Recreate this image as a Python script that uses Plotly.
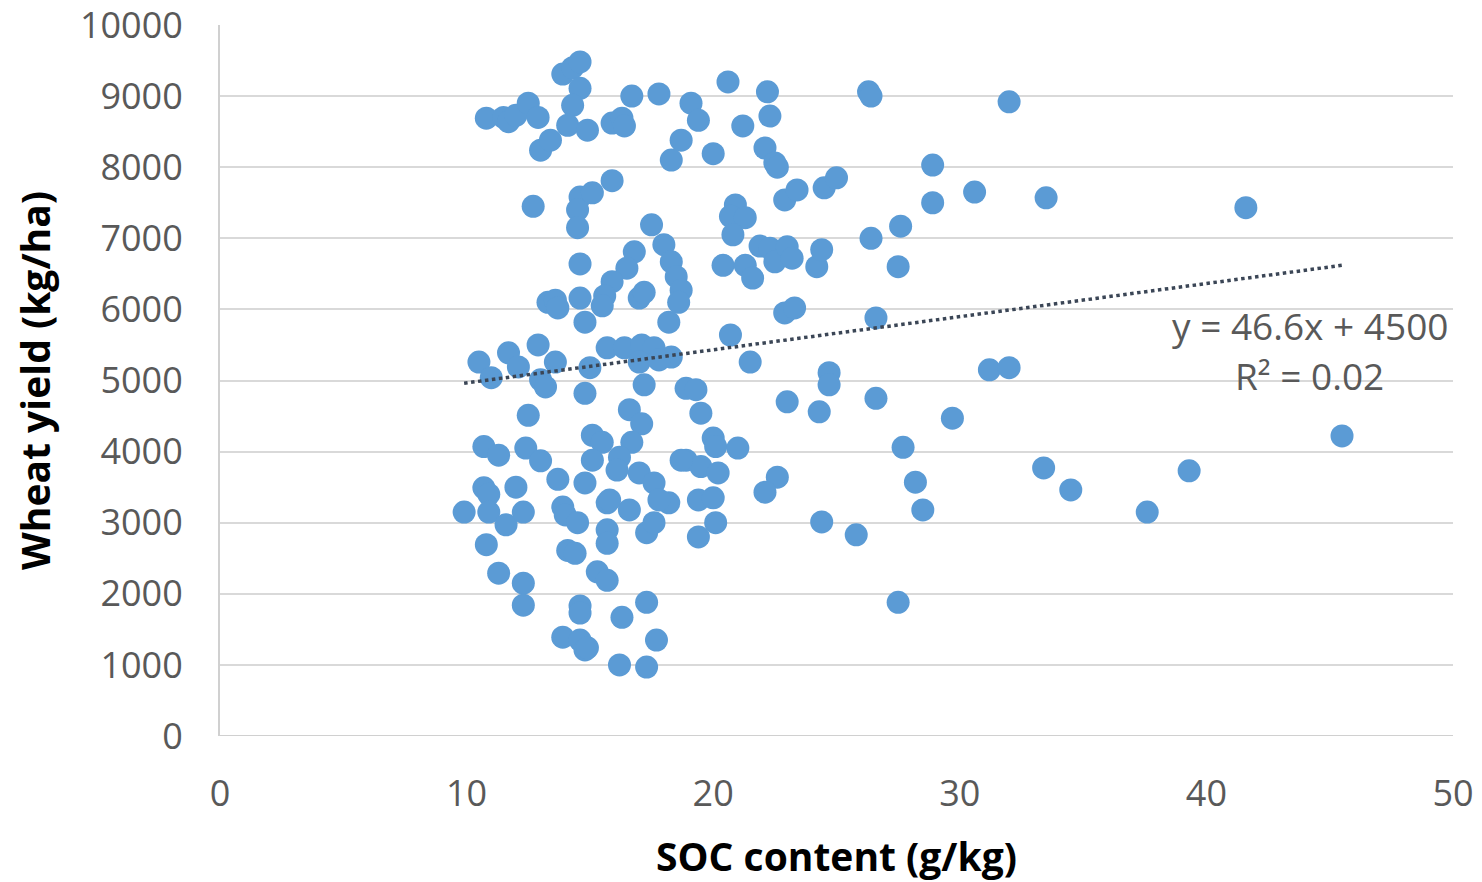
import plotly.graph_objects as go

# SOC content (g/kg) and wheat yield (kg/ha)
soc = [
    10.8, 11.5, 11.7, 12.0, 12.5, 12.9, 13.0, 13.4, 13.9, 14.3, 14.6, 14.6, 14.3, 14.1, 14.9,
    15.9, 16.3, 16.4, 16.7, 17.8, 19.1, 19.4, 20.0, 20.6, 21.2, 22.2, 22.3, 22.1, 22.5, 22.6,
    18.7, 18.3, 26.3, 26.4, 32.0, 28.9, 30.6, 33.5, 41.6,
    12.7, 14.6, 14.5, 14.5, 15.1, 15.9, 17.5, 20.9, 20.7, 21.3, 20.8, 22.9, 23.4, 24.5, 25.0,
    26.4, 27.6, 28.9,
    14.6, 16.8, 16.5, 18.0, 18.3, 18.5, 18.7, 18.6, 17.0, 17.2, 15.9, 15.6, 15.5, 14.6, 13.3,
    13.6, 13.7, 14.8, 18.2, 20.4, 21.3, 21.6, 21.9, 22.3, 22.5, 23.0, 23.2, 24.2, 24.4, 27.5,
    22.9, 23.3, 26.6, 20.7,
    10.5, 11.0, 11.7, 12.1, 12.9, 13.6, 13.0, 13.2, 15.0, 15.7, 16.4, 17.1, 17.6, 17.0, 18.3,
    17.8, 17.2, 14.8, 21.5, 24.7, 24.7, 31.2, 32.0, 18.9, 19.3,
    12.5, 16.6, 17.1, 19.5, 20.0, 20.1, 21.0, 23.0, 24.3, 26.6, 29.7, 45.5, 27.7,
    15.1, 15.5, 16.7, 10.7, 11.3, 12.4, 13.0, 15.1, 16.2, 16.1, 17.0, 17.6, 13.7, 14.8, 10.7,
    10.9, 12.0, 9.9, 10.9, 11.6, 12.3, 13.9, 14.0, 14.5, 15.7, 15.8, 16.6, 17.3, 17.6, 18.2,
    15.7, 15.7, 10.8, 14.1, 14.4, 15.3, 15.7, 11.3, 12.3, 12.3, 14.6, 14.6, 16.3, 17.3, 17.7,
    13.9, 14.6, 14.8, 14.9, 16.2, 17.3, 18.9, 19.5, 20.2, 17.8, 19.4, 20.0, 20.1, 19.4, 22.6,
    22.1, 24.4, 25.8, 27.5, 28.2, 28.5, 33.4, 34.5, 37.6, 39.3, 18.7,
]
yield_kg = [
    8690, 8700, 8640, 8730, 8900, 8700, 8240, 8380, 9310, 9400, 9480, 9110, 8870, 8590, 8520,
    8620, 8690, 8580, 9000, 9030, 8900, 8660, 8190, 9200, 8580, 9060, 8720, 8270, 8060, 8000,
    8380, 8100, 9060, 9000, 8920, 8030, 7650, 7570, 7430,
    7450, 7580, 7400, 7150, 7640, 7810, 7190, 7470, 7310, 7290, 7050, 7540, 7680, 7710, 7850,
    7000, 7170, 7500,
    6640, 6810, 6580, 6910, 6670, 6460, 6270, 6100, 6160, 6240, 6390, 6190, 6050, 6160, 6100,
    6130, 6020, 5820, 5820, 6620, 6620, 6440, 6890, 6860, 6670, 6880, 6720, 6600, 6840, 6600,
    5950, 6020, 5880, 5640,
    5260, 5040, 5390, 5190, 5500, 5260, 5010, 4910, 5180, 5460, 5460, 5500, 5460, 5260, 5330,
    5290, 4940, 4820, 5260, 5110, 4940, 5150, 5180, 4890, 4870,
    4510, 4590, 4390, 4540, 4190, 4070, 4050, 4700, 4560, 4750, 4470, 4220, 4060,
    4230, 4130, 4130, 4070, 3950, 4050, 3870, 3880, 3920, 3740, 3700, 3560, 3610, 3560, 3490,
    3400, 3500, 3150, 3150, 2970, 3150, 3220, 3110, 3000, 3280, 3320, 3180, 2860, 3000, 3280,
    2900, 2710, 2690, 2610, 2570, 2310, 2190, 2290, 2150, 1840, 1830, 1730, 1670, 1880, 1350,
    1390, 1350, 1210, 1240, 1000, 970, 3880, 3790, 3700, 3320, 3320, 3350, 3000, 2800, 3640,
    3430, 3010, 2830, 1880, 3570, 3180, 3770, 3460, 3150, 3730, 3880,
]

# Linear trendline as printed on the chart
slope = 46.6
intercept = 4500
eq_label = "y = 46.6x + 4500"
r2_label = "R² = 0.02"

x_ticks = [0, 10, 20, 30, 40, 50]
y_ticks = [0, 1000, 2000, 3000, 4000, 5000, 6000, 7000, 8000, 9000, 10000]

x_min, x_max = min(soc), max(soc)
trend_x = [x_min, x_max]
trend_y = [slope * v + intercept for v in trend_x]

fig = go.Figure()
fig.add_trace(go.Scatter(
    x=soc, y=yield_kg, mode="markers",
    marker=dict(size=23, color="#5B9BD5", line=dict(width=0)),
    showlegend=False, hoverinfo="x+y",
))
fig.add_trace(go.Scatter(
    x=trend_x, y=trend_y, mode="lines",
    line=dict(color="#3B4656", width=3.5, dash="dot"),
    showlegend=False, hoverinfo="skip",
))

label_font = dict(family="Open Sans, sans-serif", size=37, color="#595959")
fig.add_annotation(x=44.2, y=5780, xref="x", yref="y", text=eq_label,
                   showarrow=False, font=label_font, xanchor="center", yanchor="middle")
fig.add_annotation(x=44.2, y=5077, xref="x", yref="y", text=r2_label,
                   showarrow=False, font=label_font, xanchor="center", yanchor="middle")

tick_font = dict(family="Open Sans, sans-serif", size=36, color="#595959")
title_font = dict(family="Open Sans, sans-serif", size=39, color="#000000")

fig.update_layout(
    width=1482, height=882,
    margin=dict(l=220, r=29, t=25, b=146, autoexpand=False),
    paper_bgcolor="white", plot_bgcolor="white",
    xaxis=dict(
        range=[0, 50], tickvals=x_ticks, ticktext=[str(v) for v in x_ticks],
        showgrid=False, zeroline=False, showline=False,
        tickfont=tick_font, ticks="", ticklabelstandoff=33, ticklabeloverflow="allow",
        title=dict(text="<b>SOC content (g/kg)</b>", font=title_font, standoff=28),
        fixedrange=True,
    ),
    yaxis=dict(
        range=[0, 10000], tickvals=y_ticks, ticktext=[str(v) for v in y_ticks],
        showgrid=True, gridcolor="#D9D9D9", gridwidth=2,
        zeroline=False, showline=True, linecolor="#D0D0D0", linewidth=2,
        tickfont=tick_font, ticks="", ticklabelstandoff=28, ticklabeloverflow="allow",
        title=dict(text="<b>Wheat yield (kg/ha)</b>", font=title_font, standoff=17),
        fixedrange=True,
    ),
)
fig.add_shape(type="line", xref="paper", yref="y", x0=0, x1=1, y0=0, y1=0,
              line=dict(color="#D0D0D0", width=2), layer="below")

fig.write_html(
    "out.html",
    config={"displayModeBar": False},
    post_script="document.body.style.margin='0';document.body.style.overflow='hidden';",
)
